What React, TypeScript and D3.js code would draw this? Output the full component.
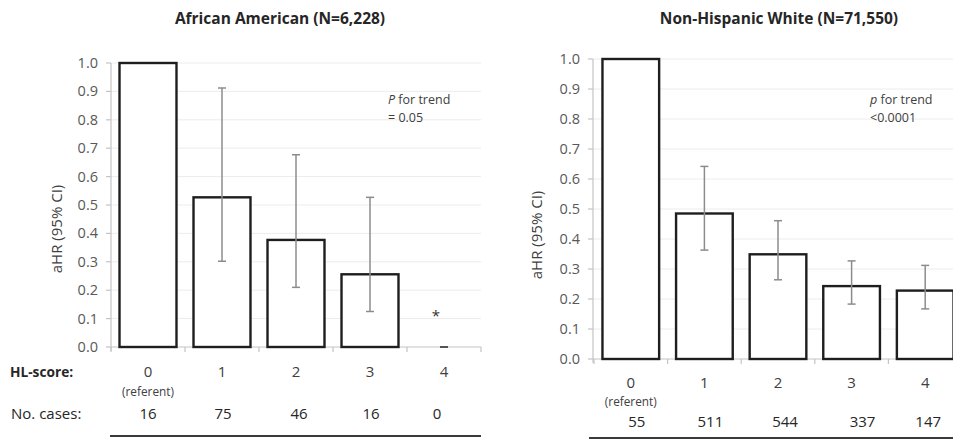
import React from "react";
import * as d3 from "d3";

// ---- data ----
const categories = ["0", "1", "2", "3", "4"];
const yTicks = [0, 0.1, 0.2, 0.3, 0.4, 0.5, 0.6, 0.7, 0.8, 0.9, 1.0];

const aaTitle = "African American (N=6,228)";
const aaHR = [1.0, 0.527, 0.377, 0.256, 0];
const aaLower = [null, 0.302, 0.21, 0.125, null];
const aaUpper = [null, 0.912, 0.677, 0.527, null];
const aaCases = ["16", "75", "46", "16", "0"];
const aaCaseShift = [0, 1, 3, 1, -7];
const aaAsterisk = [null, null, null, null, 0.12];
const aaTrend = ["for trend", "= 0.05"];

const nhwTitle = "Non-Hispanic White (N=71,550)";
const nhwHR = [1.0, 0.485, 0.349, 0.243, 0.228];
const nhwLower = [null, 0.363, 0.264, 0.183, 0.167];
const nhwUpper = [null, 0.642, 0.461, 0.327, 0.312];
const nhwCases = ["55", "511", "544", "337", "147"];
const nhwCaseShift = [6, 6, 7, 11, 3];
const nhwTrend = ["for trend", "<0.0001"];

const FONT = "'Open Sans', 'Noto Sans', sans-serif";

type PanelProps = {
  title: string;
  titleX: number;
  hr: number[];
  lower: (number | null)[];
  upper: (number | null)[];
  cases: string[];
  caseShift: number[];
  asterisk?: (number | null)[];
  trend: string[];
  trendP: string;
  trendX: number;
  axisX: number;
  bandX0: number;
  bandX1: number;
  gridX1: number;
  yZero: number;
  yOne: number;
  catY: number;
  refY: number;
  casesY: number;
  lineY: number;
  lineX0: number;
  lineX1: number;
  ylabelX: number;
  ylabelY: number;
  showRowLabels: boolean;
};

function Panel(p: PanelProps) {
  const x = d3
    .scaleBand<string>()
    .domain(categories)
    .range([p.bandX0, p.bandX1])
    .paddingInner(0.23)
    .paddingOuter(0.115);
  const xb = d3.scaleBand<string>().domain(categories).range([p.bandX0, p.bandX1]);
  const y = d3.scaleLinear().domain([0, 1]).range([p.yZero, p.yOne]);
  const cx = (c: string) => (x(c) as number) + x.bandwidth() / 2;
  const boundaries = categories.map((c) => xb(c) as number).concat([p.bandX1]);

  return (
    <g fontFamily={FONT}>
      <text x={p.titleX} y={24} textAnchor="middle" fontWeight="bold" fontSize={15.5} fill="#262626">
        {p.title}
      </text>
      {/* gridlines */}
      {yTicks.slice(1).map((t) => (
        <line key={"g" + t} x1={p.axisX} x2={p.gridX1} y1={y(t)} y2={y(t)} stroke="#ececec" strokeWidth={1} />
      ))}
      {/* y axis */}
      <line x1={p.axisX} x2={p.axisX} y1={y(1)} y2={y(0) + 4} stroke="#c4c4c4" strokeWidth={1.2} />
      {yTicks.map((t) => (
        <g key={"t" + t}>
          <line x1={p.axisX - 5} x2={p.axisX} y1={y(t)} y2={y(t)} stroke="#c4c4c4" strokeWidth={1.2} />
          <text x={p.axisX - 13} y={y(t) + 5} textAnchor="end" fontSize={14.5} fill="#595959">
            {t.toFixed(1)}
          </text>
        </g>
      ))}
      {/* x axis */}
      <line x1={p.axisX} x2={p.gridX1} y1={y(0)} y2={y(0)} stroke="#c4c4c4" strokeWidth={1.2} />
      {boundaries.map((b, i) => (
        <line key={"xb" + i} x1={b} x2={b} y1={y(0)} y2={y(0) + 5} stroke="#c4c4c4" strokeWidth={1.2} />
      ))}
      {/* bars */}
      {categories.map((c, i) =>
        p.hr[i] > 0 ? (
          <rect
            key={"b" + c}
            x={x(c)}
            y={y(p.hr[i])}
            width={x.bandwidth()}
            height={y(0) - y(p.hr[i])}
            fill="#fff"
            stroke="#1e1e1e"
            strokeWidth={2.4}
          />
        ) : (
          <line key={"b" + c} x1={cx(c) - 4} x2={cx(c) + 4} y1={y(0)} y2={y(0)} stroke="#555" strokeWidth={2} />
        )
      )}
      {/* error bars */}
      {categories.map((c, i) => {
        const lo = p.lower[i];
        const hi = p.upper[i];
        if (lo == null || hi == null) return null;
        const m = cx(c);
        return (
          <g key={"e" + c} stroke="#8c8c8c" strokeWidth={1.5}>
            <line x1={m} x2={m} y1={y(lo)} y2={y(hi)} />
            <line x1={m - 4} x2={m + 4} y1={y(lo)} y2={y(lo)} />
            <line x1={m - 4} x2={m + 4} y1={y(hi)} y2={y(hi)} />
          </g>
        );
      })}
      {p.asterisk &&
        categories.map((c, i) =>
          p.asterisk![i] != null ? (
            <text key={"a" + c} x={cx(c) - 8} y={y(p.asterisk![i] as number) + 8} textAnchor="middle" fontSize={15} fill="#333">
              *
            </text>
          ) : null
        )}
      {/* trend note */}
      <text x={p.trendX} y={104} fontSize={12.5} fill="#404040">
        <tspan fontStyle="italic">{p.trendP}</tspan>
        <tspan> {p.trend[0]}</tspan>
      </text>
      <text x={p.trendX} y={122} fontSize={12.5} fill="#404040">
        {p.trend[1]}
      </text>
      {/* y label */}
      <text
        transform={`translate(${p.ylabelX},${p.ylabelY}) rotate(-90)`}
        textAnchor="middle"
        fontSize={15}
        fill="#404040"
      >
        aHR (95% CI)
      </text>
      {/* category labels */}
      {categories.map((c) => (
        <text key={"c" + c} x={cx(c)} y={p.catY} textAnchor="middle" fontSize={15} fill="#404040">
          {c}
        </text>
      ))}
      <text x={cx(categories[0])} y={p.refY} textAnchor="middle" fontSize={11.8} fill="#404040">
        (referent)
      </text>
      {categories.map((c, i) => (
        <text key={"n" + c} x={cx(c) + p.caseShift[i]} y={p.casesY} textAnchor="middle" fontSize={15} fill="#262626">
          {p.cases[i]}
        </text>
      ))}
      {p.showRowLabels && (
        <>
          <text x={10} y={p.catY} fontSize={13.7} fontWeight="bold" fill="#262626">
            HL-score:
          </text>
          <text x={11} y={p.casesY} fontSize={15} fill="#262626">
            No. cases:
          </text>
        </>
      )}
      <line x1={p.lineX0} x2={p.lineX1} y1={p.lineY} y2={p.lineY} stroke="#3a3a3a" strokeWidth={2} />
    </g>
  );
}

export default function App() {
  return (
    <svg width={953} height={439} style={{ position: "absolute", left: 0, top: 0, background: "#fff" }}>
      <rect x={0} y={0} width={953} height={439} fill="#fff" />
      <Panel
        title={aaTitle}
        titleX={280}
        hr={aaHR}
        lower={aaLower}
        upper={aaUpper}
        cases={aaCases}
        caseShift={aaCaseShift}
        asterisk={aaAsterisk}
        trend={aaTrend}
        trendP="P"
        trendX={388}
        axisX={111}
        bandX0={111}
        bandX1={481}
        gridX1={481}
        yZero={347}
        yOne={63}
        catY={377}
        refY={396}
        casesY={419}
        lineY={436}
        lineX0={110}
        lineX1={481}
        ylabelX={62}
        ylabelY={229}
        showRowLabels
      />
      <Panel
        title={nhwTitle}
        titleX={779}
        hr={nhwHR}
        lower={nhwLower}
        upper={nhwUpper}
        cases={nhwCases}
        caseShift={nhwCaseShift}
        trend={nhwTrend}
        trendP="p"
        trendX={870}
        axisX={593}
        bandX0={594}
        bandX1={962}
        gridX1={953}
        yZero={359}
        yOne={59}
        catY={388}
        refY={406}
        casesY={427}
        lineY={438}
        lineX0={589}
        lineX1={953}
        ylabelX={542}
        ylabelY={235}
        showRowLabels={false}
      />
    </svg>
  );
}
